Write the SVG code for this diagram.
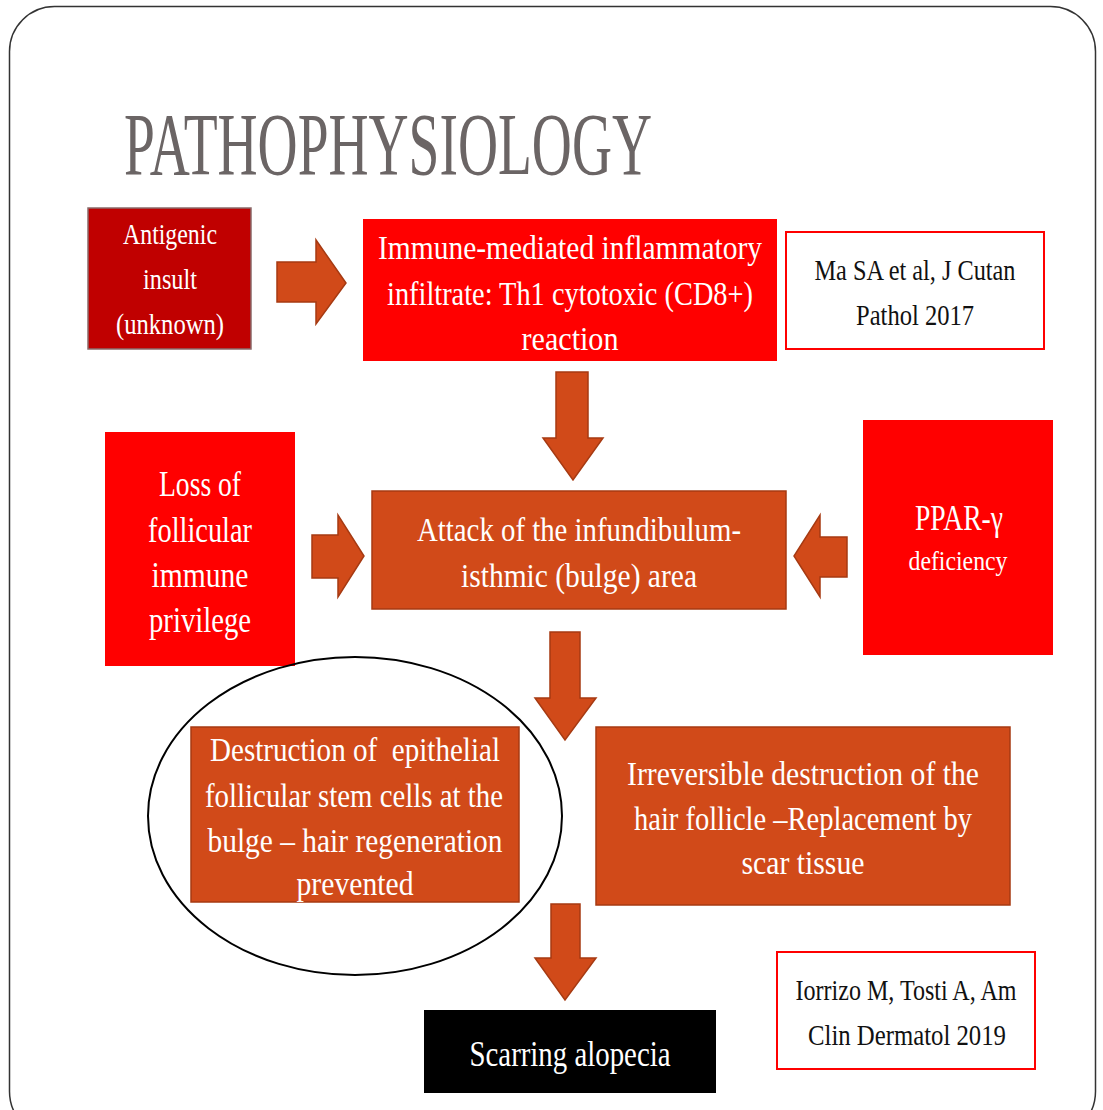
<svg xmlns="http://www.w3.org/2000/svg" width="1103" height="1110" viewBox="0 0 1103 1110">
<style>
.t{font-family:"Liberation Serif","DejaVu Serif",serif;text-anchor:middle}
.w{fill:#ffffff}
.k{fill:#111111}
.or{fill:#D14A19;stroke:#A63A12;stroke-width:1.5}
.rd{fill:#FF0000}
.ref{fill:#ffffff;stroke:#FF0000;stroke-width:2}
.arr{fill:#D14A19;stroke:#A63A12;stroke-width:1.5;stroke-linejoin:miter}
</style>
<rect x="0" y="0" width="1103" height="1110" fill="#ffffff"/>
<rect x="9.5" y="6.5" width="1086" height="1130" rx="45" ry="45" fill="none" stroke="#333333" stroke-width="1.5"/>
<text class="t" x="388" y="174" font-size="89" fill="#6B6565" textLength="528" lengthAdjust="spacingAndGlyphs">PATHOPHYSIOLOGY</text>

<g id="connectors">
<polygon class="arr" points="277,262 316,262 316,240 346,283 316,324 316,302 277,302"/>
<polygon class="arr" points="556,372 588,372 588,438 603,438 573,480 543,438 556,438"/>
<polygon class="arr" points="312,535 338,535 338,515 364,556 338,597 338,578 312,578"/>
<polygon class="arr" points="847,537 820,537 820,515 794,556 820,597 820,577 847,577"/>
<polygon class="arr" points="550,632 580,632 580,698 596,698 565,740 535,698 550,698"/>
<polygon class="arr" points="551,904 580,904 580,958 596,958 565,1000 535,958 551,958"/>
</g>

<g id="antigenic">
<rect x="88" y="208" width="163" height="141" fill="#C00000" stroke="#8A6A6A" stroke-width="1.5"/>
<text class="t w" x="170" y="244" font-size="30" textLength="94" lengthAdjust="spacingAndGlyphs">Antigenic</text>
<text class="t w" x="170" y="289" font-size="30" textLength="54" lengthAdjust="spacingAndGlyphs">insult</text>
<text class="t w" x="170" y="334" font-size="30" textLength="108" lengthAdjust="spacingAndGlyphs">(unknown)</text>
</g>

<g id="immune">
<rect class="rd" x="363" y="219" width="414" height="142"/>
<text class="t w" x="570" y="259" font-size="34" textLength="384" lengthAdjust="spacingAndGlyphs">Immune-mediated inflammatory</text>
<text class="t w" x="570" y="305" font-size="34" textLength="366" lengthAdjust="spacingAndGlyphs">infiltrate: Th1 cytotoxic (CD8+)</text>
<text class="t w" x="570" y="350" font-size="34" textLength="97" lengthAdjust="spacingAndGlyphs">reaction</text>
</g>

<g id="ref1">
<rect class="ref" x="786" y="232" width="258" height="117"/>
<text class="t k" x="915" y="280" font-size="30" textLength="201" lengthAdjust="spacingAndGlyphs">Ma SA et al, J Cutan</text>
<text class="t k" x="915" y="325" font-size="30" textLength="118" lengthAdjust="spacingAndGlyphs">Pathol 2017</text>
</g>

<g id="loss">
<rect class="rd" x="105" y="432" width="190" height="234"/>
<text class="t w" x="200" y="496" font-size="35" textLength="82" lengthAdjust="spacingAndGlyphs">Loss of</text>
<text class="t w" x="200" y="542" font-size="35" textLength="104" lengthAdjust="spacingAndGlyphs">follicular</text>
<text class="t w" x="200" y="587" font-size="35" textLength="97" lengthAdjust="spacingAndGlyphs">immune</text>
<text class="t w" x="200" y="632" font-size="35" textLength="102" lengthAdjust="spacingAndGlyphs">privilege</text>
</g>

<g id="attack">
<rect class="or" x="372" y="491" width="414" height="118"/>
<text class="t w" x="579" y="541" font-size="34" textLength="324" lengthAdjust="spacingAndGlyphs">Attack of the infundibulum-</text>
<text class="t w" x="579" y="587" font-size="34" textLength="236" lengthAdjust="spacingAndGlyphs">isthmic (bulge) area</text>
</g>

<g id="ppar">
<rect class="rd" x="863" y="420" width="190" height="235"/>
<text class="t w" x="959" y="530" font-size="35" textLength="88" lengthAdjust="spacingAndGlyphs">PPAR-γ</text>
<text class="t w" x="958" y="570" font-size="28" textLength="99" lengthAdjust="spacingAndGlyphs">deficiency</text>
</g>

<g id="destruction">
<ellipse cx="355" cy="816" rx="207" ry="159" fill="none" stroke="#000000" stroke-width="2"/>
<rect class="or" x="191" y="727" width="328" height="175"/>
<text class="t w" x="355" y="761" font-size="34" textLength="290" lengthAdjust="spacingAndGlyphs" xml:space="preserve">Destruction of  epithelial</text>
<text class="t w" x="354" y="807" font-size="34" textLength="298" lengthAdjust="spacingAndGlyphs">follicular stem cells at the</text>
<text class="t w" x="355" y="852" font-size="34" textLength="295" lengthAdjust="spacingAndGlyphs">bulge – hair regeneration</text>
<text class="t w" x="355" y="895" font-size="34" textLength="117" lengthAdjust="spacingAndGlyphs">prevented</text>
</g>

<g id="irreversible">
<rect class="or" x="596" y="727" width="414" height="178"/>
<text class="t w" x="803" y="785" font-size="34" textLength="352" lengthAdjust="spacingAndGlyphs">Irreversible destruction of the</text>
<text class="t w" x="803" y="830" font-size="34" textLength="338" lengthAdjust="spacingAndGlyphs">hair follicle –Replacement by</text>
<text class="t w" x="803" y="874" font-size="34" textLength="123" lengthAdjust="spacingAndGlyphs">scar tissue</text>
</g>

<g id="scarring">
<rect x="424" y="1010" width="292" height="83" fill="#000000"/>
<text class="t w" x="570" y="1066" font-size="35" textLength="201" lengthAdjust="spacingAndGlyphs">Scarring alopecia</text>
</g>

<g id="ref2">
<rect class="ref" x="777" y="952" width="258" height="117"/>
<text class="t k" x="906" y="1000" font-size="30" textLength="221" lengthAdjust="spacingAndGlyphs">Iorrizo M, Tosti A, Am</text>
<text class="t k" x="907" y="1045" font-size="30" textLength="198" lengthAdjust="spacingAndGlyphs">Clin Dermatol 2019</text>
</g>
</svg>
